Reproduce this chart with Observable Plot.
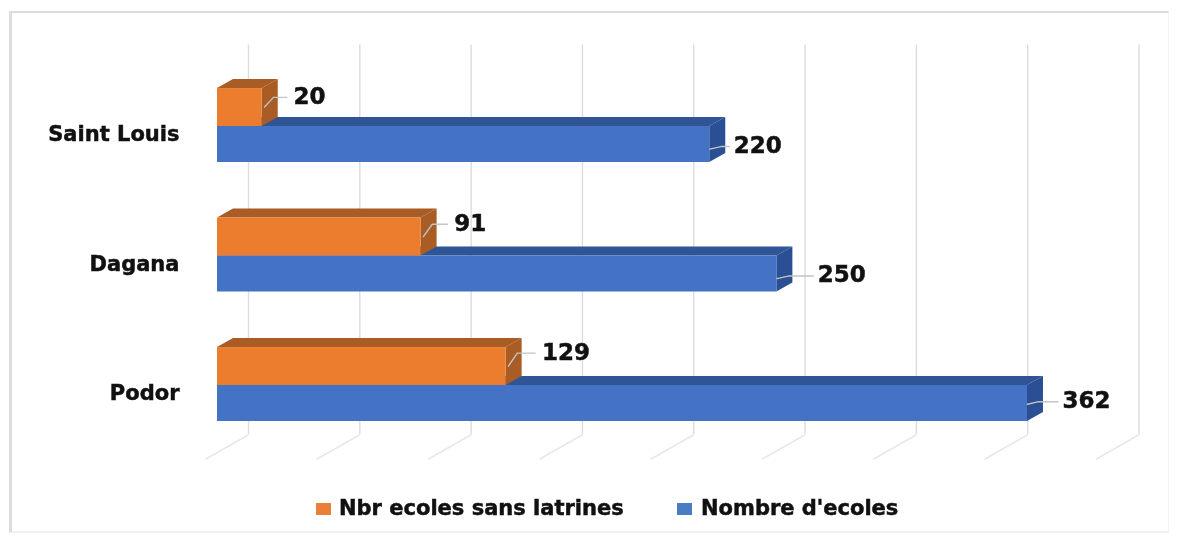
<!DOCTYPE html>
<html>
<head>
<meta charset="utf-8">
<script src="https://cdn.jsdelivr.net/npm/d3@7"></script>
<script src="https://cdn.jsdelivr.net/npm/@observablehq/plot@0.6"></script>
<style>
html,body{margin:0;padding:0;background:#fff}
#chart{position:relative;width:1184px;height:537px;overflow:hidden;font-family:"DejaVu Sans";font-weight:bold;color:#111;filter:blur(0.7px)}
#frame{position:absolute;left:9px;top:11px;width:1160px;height:522px;border:1px solid #dcdcdc;border-width:2px 1px 2px 3px;border-right-color:#f4f4f4;border-bottom-color:#f0f0f0;box-sizing:border-box}
#plot{position:absolute;left:0;top:0}
#plot text{stroke:#111;stroke-width:0.5px}
#legend{position:absolute;left:0;top:495px;width:1184px;height:26px;font-size:21px;line-height:26px;white-space:nowrap;-webkit-text-stroke:0.5px #111}
#legend span{position:absolute;top:0}
#legend i{position:absolute;top:8px;width:15px;height:12px}
</style>
</head>
<body>
<div id="chart"><div id="frame"></div><div id="plot"></div><div id="legend"></div></div>
<script>
const categories = ["Saint Louis", "Dagana", "Podor"];
const sansLatrines = [20, 91, 129];
const nombreEcoles = [220, 250, 362];
const seriesNames = ["Nbr ecoles sans latrines", "Nombre d'ecoles"];
const gridValues = [0, 50, 100, 150, 200, 250, 300, 350, 400];

// 3D look, in scale units
const depthX = 7.15, depthY = 0.07;
const orangeH = 0.293, blueH = 0.278;
const gridBack = 13.85, gridFront = -5.4, gridSpan = 0.995;
const gridTop = -0.63, gridBottom = 2.38, floorBottom = 2.57;
const orange = {front: "#ed7d2e", top: "#a95c24", side: "#a95c24"};
const blue = {front: "#4472c4", top: "#2f5597", side: "#2a4f94"};

const idx = categories.map((_, i) => i);

function barMarks(values, yTop, yBot, c) {
  const top = idx.flatMap(i => [
    {z: i, x1: 0, y1: yTop(i), x2: values[i], y2: yTop(i)},
    {z: i, x1: depthX, y1: yTop(i) - depthY, x2: values[i] + depthX, y2: yTop(i) - depthY}
  ]);
  const side = idx.flatMap(i => [
    {z: i, x1: values[i], y1: yTop(i), x2: values[i], y2: yBot(i)},
    {z: i, x1: values[i] + depthX, y1: yTop(i) - depthY, x2: values[i] + depthX, y2: yBot(i) - depthY}
  ]);
  const opts = {x1: "x1", y1: "y1", x2: "x2", y2: "y2", z: "z"};
  return [
    Plot.area(top, {...opts, fill: c.top}),
    Plot.area(side, {...opts, fill: c.side}),
    Plot.rect(idx, {x1: 0, x2: i => values[i], y1: yTop, y2: yBot, fill: c.front})
  ];
}

const leaderColor = "#c4c4c4";
// label placement relative to the bar end, in scale units
const orangeLabel = {gap: [14, 14.8, 16], y: [-0.225, -0.245, -0.25]};
const blueLabel = {gap: [10.7, 18.3, 15.6], y: [0.155, 0.155, 0.125]};

const orangeLeaders = idx.flatMap(i => [
  {z: i, x: sansLatrines[i] + 1, y: -0.15 + i},
  {z: i, x: sansLatrines[i] + 5, y: orangeLabel.y[i] + i},
  {z: i, x: sansLatrines[i] + orangeLabel.gap[i] - 3, y: orangeLabel.y[i] + i}
]);
const blueLeaders = idx.flatMap(i => [
  {z: i, x: nombreEcoles[i], y: blueLabel.y[i] + i + 0.02},
  {z: i, x: nombreEcoles[i] + 5, y: blueLabel.y[i] + i},
  {z: i, x: nombreEcoles[i] + blueLabel.gap[i] - 2, y: blueLabel.y[i] + i}
]);

const plot = Plot.plot({
  width: 1184,
  height: 490,
  marginLeft: 217,
  marginRight: 72,
  marginTop: 61.25,
  marginBottom: 40.25,
  x: {domain: [0, 400], axis: null},
  y: {domain: [2.5, -0.5], axis: null},
  style: {fontFamily: "DejaVu Sans", fontWeight: "bold", color: "#111", background: "transparent", overflow: "visible"},
  marks: [
    Plot.ruleX(gridValues, {x: v => v * gridSpan + gridBack, y1: gridTop, y2: gridBottom, stroke: "#dcdcdc", strokeWidth: 1.4}),
    Plot.link(gridValues, {
      x1: v => v * gridSpan + gridBack, y1: gridBottom,
      x2: v => v * gridSpan + gridFront, y2: floorBottom,
      stroke: "#e8e8e8", strokeWidth: 1.6
    }),
    ...barMarks(nombreEcoles, i => i, i => i + blueH, blue),
    ...barMarks(sansLatrines, i => i - orangeH, i => i, orange),
    Plot.line(orangeLeaders, {x: "x", y: "y", z: "z", stroke: leaderColor, strokeWidth: 1.4}),
    Plot.line(blueLeaders, {x: "x", y: "y", z: "z", stroke: leaderColor, strokeWidth: 1.4}),
    Plot.text(idx, {
      x: i => sansLatrines[i] + orangeLabel.gap[i], y: i => i + orangeLabel.y[i], dy: -1,
      text: i => String(sansLatrines[i]), textAnchor: "start", fontSize: 23, fill: "#111"
    }),
    Plot.text(idx, {
      x: i => nombreEcoles[i] + blueLabel.gap[i], y: i => i + blueLabel.y[i], dy: -1,
      text: i => String(nombreEcoles[i]), textAnchor: "start", fontSize: 23, fill: "#111"
    }),
    Plot.axisY(idx, {
      anchor: "left", tickSize: 0, tickPadding: 38, dy: 8,
      tickFormat: i => categories[i], fontSize: 21, fill: "#111", label: null
    })
  ]
});
document.getElementById("plot").append(plot);

const legend = document.getElementById("legend");
[[316, 339, "#e88039", 0], [677, 701, "#4a7cc4", 1]].forEach(([sx, tx, col, n]) => {
  const sw = document.createElement("i");
  sw.style.left = sx + "px"; sw.style.background = col;
  const lb = document.createElement("span");
  lb.style.left = tx + "px"; lb.textContent = seriesNames[n];
  legend.append(sw, lb);
});
</script>
</body>
</html>
